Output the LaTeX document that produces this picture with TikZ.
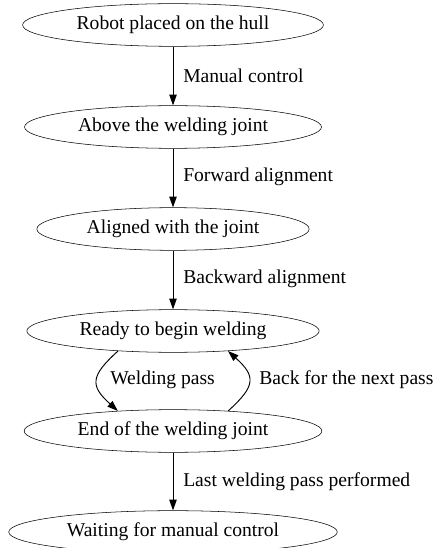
\documentclass[tikz,border=0pt]{standalone}
\usepackage{fontspec}
\setmainfont{Liberation Serif}
\usetikzlibrary{arrows.meta,shapes.geometric}

\begin{document}
\begin{tikzpicture}[x=0.75pt, y=-0.75pt,
    state/.style={draw, ellipse, inner xsep=7.5pt, minimum height=32pt, font=\fontsize{14.7}{16}\selectfont},
    lbl/.style={anchor=west, inner sep=0pt, font=\fontsize{14.7}{16}\selectfont},
    trans/.style={-{Triangle[length=8pt,width=5.5pt]}, line width=0.7pt}]
        \useasboundingbox (0,0) rectangle (439,548);

        % States of the welding robot
        \node[state] (hull) at (173,25) {Robot placed on the hull};
        \node[state] (above) at (173,127) {Above the welding joint};
        \node[state] (aligned) at (173,229) {Aligned with the joint};
        \node[state] (ready) at (173,331) {Ready to begin welding};
        \node[state] (endjoint) at (173,431) {End of the welding joint};
        \node[state] (waiting) at (173,532) {Waiting for manual control};

        % Straight transitions
        \draw[trans] (hull) -- (above);
        \node[lbl] (lmanual) at (183,76) {Manual control};
        \draw[trans] (above) -- (aligned);
        \node[lbl] (lforward) at (183,177) {Forward alignment};
        \draw[trans] (aligned) -- (ready);
        \node[lbl] (lbackward) at (183,279) {Backward alignment};
        \draw[trans] (endjoint) -- (waiting);
        \node[lbl] (llast) at (183,482) {Last welding pass performed};

        % Welding loop
        \draw[trans] (ready.200) to[out=222, in=138, looseness=1.6] (endjoint.160);
        \node[lbl] (lpass) at (110,380) {Welding pass};
        \draw[trans] (endjoint.20) to[out=42, in=318, looseness=1.6] (ready.340);
        \node[lbl] (lnext) at (259,380) {Back for the next pass};
    \end{tikzpicture}
\end{document}
